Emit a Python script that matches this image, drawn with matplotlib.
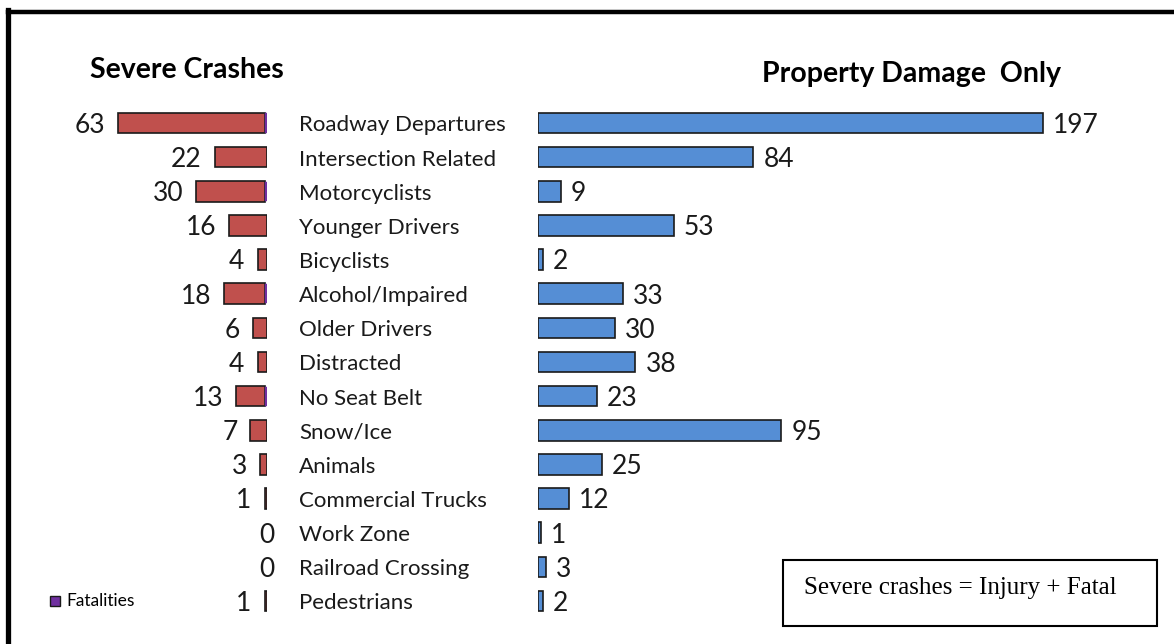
import matplotlib
matplotlib.use('Agg')
import numpy as np
from matplotlib import pyplot as plt
from matplotlib import transforms
from matplotlib.patches import Rectangle

categories = ['Roadway Departures', 'Intersection Related', 'Motorcyclists',
              'Younger Drivers', 'Bicyclists', 'Alcohol/Impaired', 'Older Drivers',
              'Distracted', 'No Seat Belt', 'Snow/Ice', 'Animals',
              'Commercial Trucks', 'Work Zone', 'Railroad Crossing', 'Pedestrians']
severe = [63, 22, 30, 16, 4, 18, 6, 4, 13, 7, 3, 1, 0, 0, 1]
fatal = [1, 0, 1, 0, 0, 1, 0, 0, 1, 0, 0, 0, 0, 0, 0]
pdo = [197, 84, 9, 53, 2, 33, 30, 38, 23, 95, 25, 12, 1, 3, 2]

injury = [s - f for s, f in zip(severe, fatal)]

W, H = 1174, 644
red = '#C0504D'
blue = '#558ED5'
purple = '#7030A0'
edge = '#1a1a1a'
font = 'Lato'
dy = 0.07  # nudge labels down a little so they sit on the bar centre

fig = plt.figure(figsize=(W / 100, H / 100), dpi=100)

rows = np.arange(len(categories))
# rows sit 34.14 px apart, first one at 123 px from the top
ylim = (644 - 123) / 34.14, -123 / 34.14

# severe crashes, growing leftwards from x=267px
axL = fig.add_axes([0, 0, 267 / W, 1])
for r, f, i in zip(rows, fatal, injury):
    if i > 0:
        axL.barh(r, i, left=f, height=0.6, color=red, edgecolor=edge, linewidth=1.2)
    if f > 0:
        axL.barh(r, f, height=0.56, color=purple, edgecolor=purple, linewidth=0.3, zorder=3)
axL.set_xlim(267 / 2.365, 0)
axL.set_ylim(*ylim)
axL.axis('off')
for r, v in zip(rows, severe):
    if v == 0:
        axL.text(0, r + dy, str(v), ha='center', va='center', fontsize=19,
                 family=font, color='#1a1a1a', clip_on=False)
    else:
        axL.text(v + 5.5, r + dy, str(v), ha='right', va='center', fontsize=19,
                 family=font, color='#1a1a1a')

# property damage only, growing rightwards from x=538px
axR = fig.add_axes([538 / W, 0, (W - 538) / W, 1])
axR.barh(rows, pdo, height=0.6, color=blue, edgecolor=edge, linewidth=1.2)
axR.set_xlim(0, (W - 538) / 2.563)
axR.set_ylim(*ylim)
axR.axis('off')
for r, v in zip(rows, pdo):
    axR.text(v + 3.9, r + dy, str(v), ha='left', va='center', fontsize=19,
             family=font, color='#1a1a1a')

# category names between the two halves
trans = transforms.blended_transform_factory(fig.transFigure, axL.transData)
for r, c in zip(rows, categories):
    axL.text(299 / W, r + dy, c, transform=trans, ha='left', va='center',
             fontsize=16, family=font, color='#1a1a1a', clip_on=False)

fig.text(90 / W, 1 - 70 / H, 'Severe Crashes', ha='left', va='center',
         fontsize=20.5, fontweight='bold', family=font)
fig.text(762 / W, 1 - 74 / H, 'Property Damage  Only', ha='left', va='center',
         fontsize=20.5, fontweight='bold', family=font)

# fatalities legend key
fig.patches.append(Rectangle((50 / W, 1 - 606 / H), 10 / W, 10 / H, transform=fig.transFigure,
                             facecolor=purple, edgecolor=edge, linewidth=1))
fig.text(66 / W, 1 - 601 / H, 'Fatalities', ha='left', va='center', fontsize=12.5, family=font)

# note box
fig.patches.append(Rectangle((783 / W, 1 - 626 / H), 374 / W, 66 / H, transform=fig.transFigure,
                             facecolor='white', edgecolor='black', linewidth=1.5))
fig.text(804 / W, 1 - 588 / H, 'Severe crashes = Injury + Fatal', ha='left', va='center',
         fontsize=18, family='Liberation Serif')

# outer frame, top and left edges
fig.add_artist(plt.Line2D([7.5 / W, 1], [1 - 11.5 / H, 1 - 11.5 / H], transform=fig.transFigure,
                          color='black', linewidth=3.2))
fig.add_artist(plt.Line2D([7.5 / W, 7.5 / W], [0, 1 - 10 / H], transform=fig.transFigure,
                          color='black', linewidth=3.8))

plt.savefig('out.png', dpi=100)
